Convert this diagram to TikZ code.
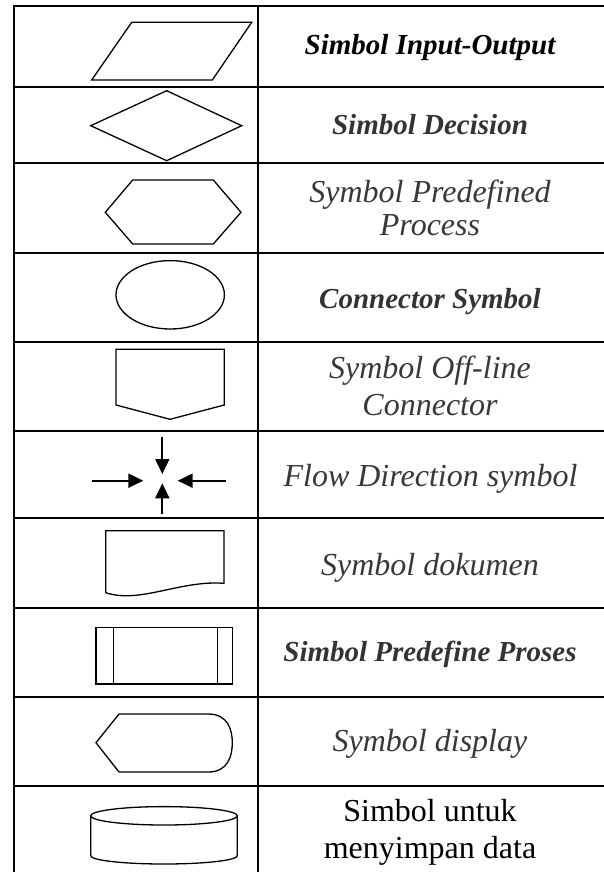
\documentclass[tikz,border=0pt]{standalone}
\usepackage{fontspec}
\setmainfont{Liberation Serif}[
  ItalicFont={Liberation Serif Italic},
  BoldFont={Liberation Serif Bold},
  BoldItalicFont={Liberation Serif Bold Italic}]
\usetikzlibrary{arrows.meta}
\begin{document}
\begin{tikzpicture}[x=1pt,y=-1pt,
  grid/.style={line width=2.3pt,line cap=rect},
  outline/.style={line width=1.3pt,line join=miter},
  thinoutline/.style={line width=1.1pt},
  flow/.style={line width=2pt,-{Triangle[length=15pt,width=14pt]}},
  bi/.style={anchor=base,inner sep=0pt,text=black!80,font=\fontsize{29}{33}\selectfont\bfseries\itshape},
  it/.style={anchor=base,inner sep=0pt,text=black!78,font=\fontsize{32}{36}\selectfont\itshape},
  up/.style={anchor=base,inner sep=0pt,text=black,font=\fontsize{32}{36}\selectfont}]
\useasboundingbox (0,0) rectangle (603,872);
% table rules
\draw[grid] (14,872) -- (14,5.8) -- (603,5.8);
\draw[grid] (258.3,5.8) -- (258.3,872);
\foreach \y in {87.3,163.3,253.3,342.3,430.7,518.3,608,696.7,786}
  \draw[grid] (14,\y) -- (603,\y);
% input-output
\draw[outline] (131.7,22.3) -- (251.7,22.3) -- (212.3,80) -- (91.7,80) -- cycle;
% decision
\draw[outline] (90.7,125.7) -- (166.7,90.7) -- (241.7,125.7) -- (166.7,160.7) -- cycle;
% predefined process (hexagon)
\draw[outline] (132.7,180) -- (213.3,180) -- (241,212.3) -- (213.3,244) -- (132.7,244) -- (105.3,212.3) -- cycle;
% connector
\draw[outline] (170.2,294.8) ellipse [x radius=54.2pt,y radius=34.2pt];
% off-page connector
\draw[outline] (116,349.3) -- (224.3,349.3) -- (224.3,405) -- (170,419.3) -- (116,405) -- cycle;
% flow direction
\coordinate (nA) at (162.3,436.7); \coordinate (nB) at (162.3,474);
\coordinate (sA) at (162.3,514);   \coordinate (sB) at (162.3,483.3);
\coordinate (wA) at (92.3,480.7);  \coordinate (wB) at (143.3,480.7);
\coordinate (eA) at (225.7,480.7); \coordinate (eB) at (177.7,480.7);
\draw[flow] (nA) -- (nB);
\draw[flow] (sA) -- (sB);
\draw[flow] (wA) -- (wB);
\draw[flow] (eA) -- (eB);
% document
\draw[outline] (105.7,592.7) -- (105.7,530.7) -- (224,530.7) -- (224,583.3)
  .. controls (180,580) and (140,604) .. (105.7,592.7) -- cycle;
% predefined process (boxed)
\draw[thinoutline] (96,627.7) rectangle (232.3,684);
\draw[thinoutline] (113.3,627.7) -- (113.3,684);
\draw[thinoutline] (217.7,627.7) -- (217.7,684);
% display
\draw[outline] (96,742.7) -- (119,714) -- (208.3,714)
  .. controls (228,714) and (232.3,730) .. (232.3,742.7)
  .. controls (232.3,756) and (228,772) .. (208.3,772) -- (119,772) -- cycle;
% stored data (cylinder)
\draw[outline] (164,815.8) ellipse [x radius=73.3pt,y radius=9.2pt];
\draw[outline] (90.7,815.8) -- (90.7,855.7)
  .. controls (90.7,860.3) and (123.5,864) .. (164,864)
  .. controls (204.5,864) and (237.3,860.3) .. (237.3,855.7) -- (237.3,815.8);
% labels
\node[bi,text=black] (t1) at (430,54.3) {Simbol Input-Output};
\node[bi] (t2) at (430,135) {Simbol Decision};
\node[it] (t3a) at (430,202.3) {Symbol Predefined};
\node[it] (t3b) at (430,235) {Process};
\node[bi] (t4) at (430,308.3) {Connector Symbol};
\node[it] (t5a) at (430,378.3) {Symbol Off-line};
\node[it] (t5b) at (430,415) {Connector};
\node[it] (t6) at (430.5,486.7) {Flow Direction symbol};
\node[it] (t7) at (430,575) {Symbol dokumen};
\node[bi] (t8) at (430,661.7) {Simbol Predefine Proses};
\node[it] (t9) at (430,751.7) {Symbol display};
\node[up] (t10a) at (430,821.7) {Simbol untuk};
\node[up] (t10b) at (430,858.3) {menyimpan data};
\end{tikzpicture}
\end{document}
